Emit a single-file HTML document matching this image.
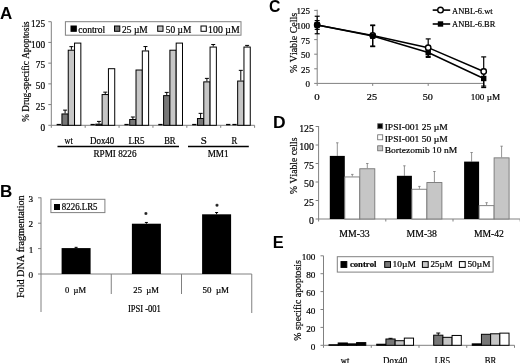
<!DOCTYPE html>
<html><head><meta charset="utf-8"><style>
html,body{margin:0;padding:0;background:#fff;width:520px;height:363px;overflow:hidden}
svg{display:block;filter:grayscale(1) blur(0.35px)}
text{font-kerning:none;white-space:pre;stroke:#000;stroke-width:0.2px}
</style></head><body>
<svg width="520" height="363" viewBox="0 0 520 363">
<rect width="520" height="363" fill="#fff"/>
<text x="-0.12" y="19.00" font-size="17" font-family='"Liberation Sans", sans-serif' font-weight="bold" textLength="12.27" lengthAdjust="spacingAndGlyphs" fill="#000" style="stroke:none">A</text>
<text x="-0.14" y="196.90" font-size="17" font-family='"Liberation Sans", sans-serif' font-weight="bold" textLength="12.32" lengthAdjust="spacingAndGlyphs" fill="#000" style="stroke:none">B</text>
<text x="269.05" y="12.00" font-size="17" font-family='"Liberation Sans", sans-serif' font-weight="bold" textLength="11.38" lengthAdjust="spacingAndGlyphs" fill="#000" style="stroke:none">C</text>
<text x="273.13" y="128.30" font-size="17" font-family='"Liberation Sans", sans-serif' font-weight="bold" textLength="12.60" lengthAdjust="spacingAndGlyphs" fill="#000" style="stroke:none">D</text>
<text x="272.70" y="248.00" font-size="17" font-family='"Liberation Sans", sans-serif' font-weight="bold" textLength="10.94" lengthAdjust="spacingAndGlyphs" fill="#000" style="stroke:none">E</text>
<line x1="51.30" y1="21.70" x2="51.30" y2="125.30" stroke="#808080" stroke-width="1"/>
<line x1="48.30" y1="125.30" x2="51.30" y2="125.30" stroke="#808080" stroke-width="1"/>
<text x="40.40" y="130.50" font-size="9.3" font-family='"Liberation Serif", serif' font-weight="normal" textLength="4.65" lengthAdjust="spacingAndGlyphs" fill="#000">0</text>
<line x1="48.30" y1="104.58" x2="51.30" y2="104.58" stroke="#808080" stroke-width="1"/>
<text x="35.76" y="109.78" font-size="9.3" font-family='"Liberation Serif", serif' font-weight="normal" textLength="9.30" lengthAdjust="spacingAndGlyphs" fill="#000">25</text>
<line x1="48.30" y1="83.86" x2="51.30" y2="83.86" stroke="#808080" stroke-width="1"/>
<text x="35.75" y="89.06" font-size="9.3" font-family='"Liberation Serif", serif' font-weight="normal" textLength="9.30" lengthAdjust="spacingAndGlyphs" fill="#000">50</text>
<line x1="48.30" y1="63.14" x2="51.30" y2="63.14" stroke="#808080" stroke-width="1"/>
<text x="35.76" y="68.34" font-size="9.3" font-family='"Liberation Serif", serif' font-weight="normal" textLength="9.30" lengthAdjust="spacingAndGlyphs" fill="#000">75</text>
<line x1="48.30" y1="42.42" x2="51.30" y2="42.42" stroke="#808080" stroke-width="1"/>
<text x="31.10" y="47.62" font-size="9.3" font-family='"Liberation Serif", serif' font-weight="normal" textLength="13.95" lengthAdjust="spacingAndGlyphs" fill="#000">100</text>
<line x1="48.30" y1="21.70" x2="51.30" y2="21.70" stroke="#808080" stroke-width="1"/>
<text x="31.11" y="26.90" font-size="9.3" font-family='"Liberation Serif", serif' font-weight="normal" textLength="13.95" lengthAdjust="spacingAndGlyphs" fill="#000">125</text>
<line x1="51.30" y1="125.30" x2="254.60" y2="125.30" stroke="#808080" stroke-width="1"/>
<line x1="51.30" y1="125.30" x2="51.30" y2="127.80" stroke="#808080" stroke-width="1"/>
<line x1="85.18" y1="125.30" x2="85.18" y2="127.80" stroke="#808080" stroke-width="1"/>
<line x1="119.07" y1="125.30" x2="119.07" y2="127.80" stroke="#808080" stroke-width="1"/>
<line x1="152.95" y1="125.30" x2="152.95" y2="127.80" stroke="#808080" stroke-width="1"/>
<line x1="186.83" y1="125.30" x2="186.83" y2="127.80" stroke="#808080" stroke-width="1"/>
<line x1="220.72" y1="125.30" x2="220.72" y2="127.80" stroke="#808080" stroke-width="1"/>
<line x1="254.60" y1="125.30" x2="254.60" y2="127.80" stroke="#808080" stroke-width="1"/>
<rect x="56.64" y="123.90" width="4.30" height="1.40" fill="#000"/>
<rect x="61.94" y="113.95" width="6.30" height="11.35" fill="#777777" stroke="#000" stroke-width="1"/>
<line x1="65.09" y1="110.13" x2="65.09" y2="113.45" stroke="#000" stroke-width="1"/>
<line x1="63.09" y1="110.13" x2="67.09" y2="110.13" stroke="#000" stroke-width="1"/>
<rect x="68.24" y="50.21" width="6.30" height="75.09" fill="#c6c6c6" stroke="#000" stroke-width="1"/>
<line x1="71.39" y1="46.65" x2="71.39" y2="49.71" stroke="#000" stroke-width="1"/>
<line x1="69.39" y1="46.65" x2="73.39" y2="46.65" stroke="#000" stroke-width="1"/>
<rect x="74.54" y="43.09" width="6.30" height="82.21" fill="#fff" stroke="#000" stroke-width="1"/>
<rect x="90.53" y="123.90" width="4.30" height="1.40" fill="#000"/>
<rect x="95.83" y="124.14" width="6.30" height="1.16" fill="#777777" stroke="#000" stroke-width="1"/>
<line x1="98.98" y1="121.40" x2="98.98" y2="123.64" stroke="#000" stroke-width="1"/>
<line x1="96.98" y1="121.40" x2="100.98" y2="121.40" stroke="#000" stroke-width="1"/>
<rect x="102.12" y="94.55" width="6.30" height="30.75" fill="#c6c6c6" stroke="#000" stroke-width="1"/>
<line x1="105.28" y1="92.15" x2="105.28" y2="94.05" stroke="#000" stroke-width="1"/>
<line x1="103.28" y1="92.15" x2="107.28" y2="92.15" stroke="#000" stroke-width="1"/>
<rect x="108.43" y="68.70" width="6.30" height="56.60" fill="#fff" stroke="#000" stroke-width="1"/>
<rect x="124.41" y="123.90" width="4.30" height="1.40" fill="#000"/>
<rect x="129.71" y="119.50" width="6.30" height="5.80" fill="#777777" stroke="#000" stroke-width="1"/>
<line x1="132.86" y1="117.01" x2="132.86" y2="119.00" stroke="#000" stroke-width="1"/>
<line x1="130.86" y1="117.01" x2="134.86" y2="117.01" stroke="#000" stroke-width="1"/>
<rect x="136.01" y="70.02" width="6.30" height="55.28" fill="#c6c6c6" stroke="#000" stroke-width="1"/>
<rect x="142.31" y="50.96" width="6.30" height="74.34" fill="#fff" stroke="#000" stroke-width="1"/>
<line x1="145.46" y1="46.56" x2="145.46" y2="50.46" stroke="#000" stroke-width="1"/>
<line x1="143.46" y1="46.56" x2="147.46" y2="46.56" stroke="#000" stroke-width="1"/>
<rect x="158.29" y="123.90" width="4.30" height="1.40" fill="#000"/>
<rect x="163.59" y="95.63" width="6.30" height="29.67" fill="#777777" stroke="#000" stroke-width="1"/>
<line x1="166.74" y1="92.40" x2="166.74" y2="95.13" stroke="#000" stroke-width="1"/>
<line x1="164.74" y1="92.40" x2="168.74" y2="92.40" stroke="#000" stroke-width="1"/>
<rect x="169.89" y="50.21" width="6.30" height="75.09" fill="#c6c6c6" stroke="#000" stroke-width="1"/>
<rect x="176.19" y="43.09" width="6.30" height="82.21" fill="#fff" stroke="#000" stroke-width="1"/>
<rect x="192.17" y="123.90" width="4.30" height="1.40" fill="#000"/>
<rect x="197.47" y="118.51" width="6.30" height="6.79" fill="#777777" stroke="#000" stroke-width="1"/>
<line x1="200.62" y1="113.37" x2="200.62" y2="118.01" stroke="#000" stroke-width="1"/>
<line x1="198.62" y1="113.37" x2="202.62" y2="113.37" stroke="#000" stroke-width="1"/>
<rect x="203.77" y="81.87" width="6.30" height="43.43" fill="#c6c6c6" stroke="#000" stroke-width="1"/>
<line x1="206.92" y1="78.39" x2="206.92" y2="81.37" stroke="#000" stroke-width="1"/>
<line x1="204.92" y1="78.39" x2="208.92" y2="78.39" stroke="#000" stroke-width="1"/>
<rect x="210.07" y="47.06" width="6.30" height="78.24" fill="#fff" stroke="#000" stroke-width="1"/>
<line x1="213.22" y1="44.49" x2="213.22" y2="46.56" stroke="#000" stroke-width="1"/>
<line x1="211.22" y1="44.49" x2="215.22" y2="44.49" stroke="#000" stroke-width="1"/>
<rect x="226.06" y="123.90" width="4.30" height="1.40" fill="#000"/>
<rect x="232.36" y="123.90" width="4.30" height="1.40" fill="#000"/>
<rect x="237.66" y="81.04" width="6.30" height="44.26" fill="#c6c6c6" stroke="#000" stroke-width="1"/>
<line x1="240.81" y1="70.35" x2="240.81" y2="80.54" stroke="#000" stroke-width="1"/>
<line x1="238.81" y1="70.35" x2="242.81" y2="70.35" stroke="#000" stroke-width="1"/>
<rect x="243.96" y="47.06" width="6.30" height="78.24" fill="#fff" stroke="#000" stroke-width="1"/>
<line x1="247.11" y1="45.40" x2="247.11" y2="46.56" stroke="#000" stroke-width="1"/>
<line x1="245.11" y1="45.40" x2="249.11" y2="45.40" stroke="#000" stroke-width="1"/>
<text x="64.59" y="143.90" font-size="9.6" font-family='"Liberation Serif", serif' font-weight="normal" textLength="8.16" lengthAdjust="spacingAndGlyphs" fill="#000">wt</text>
<text x="89.94" y="143.90" font-size="9.6" font-family='"Liberation Serif", serif' font-weight="normal" textLength="24.40" lengthAdjust="spacingAndGlyphs" fill="#000">Dox40</text>
<text x="128.44" y="143.90" font-size="9.6" font-family='"Liberation Serif", serif' font-weight="normal" textLength="16.12" lengthAdjust="spacingAndGlyphs" fill="#000">LR5</text>
<text x="164.15" y="143.90" font-size="9.6" font-family='"Liberation Serif", serif' font-weight="normal" textLength="11.46" lengthAdjust="spacingAndGlyphs" fill="#000">BR</text>
<text x="200.76" y="143.90" font-size="9.6" font-family='"Liberation Serif", serif' font-weight="normal" textLength="6.12" lengthAdjust="spacingAndGlyphs" fill="#000">S</text>
<text x="231.55" y="143.90" font-size="9.6" font-family='"Liberation Serif", serif' font-weight="normal" textLength="5.76" lengthAdjust="spacingAndGlyphs" fill="#000">R</text>
<line x1="57.50" y1="146.50" x2="179.00" y2="146.50" stroke="#000" stroke-width="1.4"/>
<line x1="188.00" y1="146.50" x2="248.80" y2="146.50" stroke="#000" stroke-width="1.4"/>
<text x="93.44" y="156.60" font-size="9.6" font-family='"Liberation Serif", serif' font-weight="normal" textLength="43.04" lengthAdjust="spacingAndGlyphs" fill="#000">RPMI 8226</text>
<text x="207.64" y="156.60" font-size="9.6" font-family='"Liberation Serif", serif' font-weight="normal" textLength="20.92" lengthAdjust="spacingAndGlyphs" fill="#000">MM1</text>
<text x="0" y="0" font-size="10" font-family='"Liberation Serif", serif' textLength="100.25" lengthAdjust="spacingAndGlyphs" transform="translate(28.80,121.71) rotate(-90)">% Drug-specific Apoptosis</text>
<rect x="65.40" y="21.70" width="175.60" height="13.50" fill="#fff" stroke="#808080" stroke-width="1"/>
<rect x="71.00" y="26.00" width="5.30" height="5.30" fill="#000" stroke="#000" stroke-width="1"/>
<text x="78.24" y="33.20" font-size="9.4" font-family='"Liberation Serif", serif' font-weight="normal" textLength="26.95" lengthAdjust="spacingAndGlyphs" fill="#000">control</text>
<rect x="114.50" y="26.00" width="5.30" height="5.30" fill="#777777" stroke="#000" stroke-width="1"/>
<text x="122.08" y="33.20" font-size="9.4" font-family='"Liberation Serif", serif' font-weight="normal" textLength="25.69" lengthAdjust="spacingAndGlyphs" fill="#000">25 µM</text>
<rect x="157.70" y="26.00" width="5.30" height="5.30" fill="#c6c6c6" stroke="#000" stroke-width="1"/>
<text x="165.75" y="33.20" font-size="9.4" font-family='"Liberation Serif", serif' font-weight="normal" textLength="25.52" lengthAdjust="spacingAndGlyphs" fill="#000">50 µM</text>
<rect x="201.00" y="26.00" width="5.30" height="5.30" fill="#fff" stroke="#000" stroke-width="1"/>
<text x="208.14" y="33.20" font-size="9.4" font-family='"Liberation Serif", serif' font-weight="normal" textLength="31.55" lengthAdjust="spacingAndGlyphs" fill="#000">100 µM</text>
<line x1="41.00" y1="197.40" x2="41.00" y2="312.00" stroke="#808080" stroke-width="1"/>
<line x1="38.00" y1="274.00" x2="41.00" y2="274.00" stroke="#808080" stroke-width="1"/>
<text x="28.45" y="278.10" font-size="9.2" font-family='"Liberation Serif", serif' font-weight="normal" textLength="4.60" lengthAdjust="spacingAndGlyphs" fill="#000">0</text>
<line x1="38.00" y1="248.60" x2="41.00" y2="248.60" stroke="#808080" stroke-width="1"/>
<text x="28.65" y="252.70" font-size="9.2" font-family='"Liberation Serif", serif' font-weight="normal" textLength="4.60" lengthAdjust="spacingAndGlyphs" fill="#000">1</text>
<line x1="38.00" y1="223.20" x2="41.00" y2="223.20" stroke="#808080" stroke-width="1"/>
<text x="28.61" y="227.30" font-size="9.2" font-family='"Liberation Serif", serif' font-weight="normal" textLength="4.60" lengthAdjust="spacingAndGlyphs" fill="#000">2</text>
<line x1="38.00" y1="197.80" x2="41.00" y2="197.80" stroke="#808080" stroke-width="1"/>
<text x="28.46" y="201.90" font-size="9.2" font-family='"Liberation Serif", serif' font-weight="normal" textLength="4.60" lengthAdjust="spacingAndGlyphs" fill="#000">3</text>
<line x1="41.00" y1="274.00" x2="251.75" y2="274.00" stroke="#808080" stroke-width="1"/>
<line x1="111.25" y1="274.00" x2="111.25" y2="294.00" stroke="#808080" stroke-width="1"/>
<line x1="181.50" y1="274.00" x2="181.50" y2="294.00" stroke="#808080" stroke-width="1"/>
<line x1="251.75" y1="274.00" x2="251.75" y2="313.00" stroke="#808080" stroke-width="1"/>
<rect x="61.60" y="248.09" width="29.00" height="25.91" fill="#000"/>
<line x1="76.10" y1="247.33" x2="76.10" y2="248.09" stroke="#000" stroke-width="1"/>
<line x1="74.60" y1="247.33" x2="77.60" y2="247.33" stroke="#000" stroke-width="1"/>
<rect x="131.90" y="223.71" width="29.00" height="50.29" fill="#000"/>
<line x1="146.40" y1="222.44" x2="146.40" y2="223.71" stroke="#000" stroke-width="1"/>
<line x1="144.90" y1="222.44" x2="147.90" y2="222.44" stroke="#000" stroke-width="1"/>
<rect x="202.10" y="214.31" width="29.00" height="59.69" fill="#000"/>
<line x1="216.60" y1="212.53" x2="216.60" y2="214.31" stroke="#000" stroke-width="1"/>
<line x1="215.10" y1="212.53" x2="218.10" y2="212.53" stroke="#000" stroke-width="1"/>
<line x1="145.90" y1="212.10" x2="145.90" y2="215.10" stroke="#222" stroke-width="1.2"/>
<line x1="144.60" y1="212.85" x2="147.20" y2="214.35" stroke="#222" stroke-width="1.2"/>
<line x1="147.20" y1="212.85" x2="144.60" y2="214.35" stroke="#222" stroke-width="1.2"/>
<line x1="217.00" y1="203.70" x2="217.00" y2="206.70" stroke="#222" stroke-width="1.2"/>
<line x1="215.70" y1="204.45" x2="218.30" y2="205.95" stroke="#222" stroke-width="1.2"/>
<line x1="218.30" y1="204.45" x2="215.70" y2="205.95" stroke="#222" stroke-width="1.2"/>
<rect x="50.90" y="199.30" width="54.00" height="13.30" fill="#fff" stroke="#808080" stroke-width="1"/>
<rect x="54.00" y="204.00" width="6.00" height="6.00" fill="#000"/>
<text x="61.86" y="210.00" font-size="9.4" font-family='"Liberation Serif", serif' font-weight="normal" textLength="35.68" lengthAdjust="spacingAndGlyphs" fill="#000">8226.LR5</text>
<text x="65.08" y="293.30" font-size="8.8" font-family='"Liberation Serif", serif' font-weight="normal" textLength="20.97" lengthAdjust="spacingAndGlyphs" fill="#000">0  µM</text>
<text x="133.37" y="293.30" font-size="8.8" font-family='"Liberation Serif", serif' font-weight="normal" textLength="25.63" lengthAdjust="spacingAndGlyphs" fill="#000">25  µM</text>
<text x="202.48" y="293.30" font-size="8.8" font-family='"Liberation Serif", serif' font-weight="normal" textLength="26.53" lengthAdjust="spacingAndGlyphs" fill="#000">50  µM</text>
<text x="127.89" y="311.50" font-size="9.6" font-family='"Liberation Serif", serif' font-weight="normal" textLength="33.02" lengthAdjust="spacingAndGlyphs" fill="#000">IPSI -001</text>
<text x="0" y="0" font-size="10" font-family='"Liberation Serif", serif' textLength="102.75" lengthAdjust="spacingAndGlyphs" transform="translate(23.60,298.09) rotate(-90)">Fold DNA fragmentation</text>
<line x1="317.20" y1="9.70" x2="317.20" y2="83.40" stroke="#808080" stroke-width="1"/>
<line x1="314.20" y1="83.40" x2="317.20" y2="83.40" stroke="#808080" stroke-width="1"/>
<text x="305.54" y="87.40" font-size="9" font-family='"Liberation Serif", serif' font-weight="normal" textLength="4.50" lengthAdjust="spacingAndGlyphs" fill="#000">0</text>
<line x1="314.20" y1="68.80" x2="317.20" y2="68.80" stroke="#808080" stroke-width="1"/>
<text x="301.05" y="72.80" font-size="9" font-family='"Liberation Serif", serif' font-weight="normal" textLength="9.00" lengthAdjust="spacingAndGlyphs" fill="#000">25</text>
<line x1="314.20" y1="54.20" x2="317.20" y2="54.20" stroke="#808080" stroke-width="1"/>
<text x="301.04" y="58.20" font-size="9" font-family='"Liberation Serif", serif' font-weight="normal" textLength="9.00" lengthAdjust="spacingAndGlyphs" fill="#000">50</text>
<line x1="314.20" y1="39.60" x2="317.20" y2="39.60" stroke="#808080" stroke-width="1"/>
<text x="301.05" y="43.60" font-size="9" font-family='"Liberation Serif", serif' font-weight="normal" textLength="9.00" lengthAdjust="spacingAndGlyphs" fill="#000">75</text>
<line x1="314.20" y1="25.00" x2="317.20" y2="25.00" stroke="#808080" stroke-width="1"/>
<text x="296.54" y="29.00" font-size="9" font-family='"Liberation Serif", serif' font-weight="normal" textLength="13.50" lengthAdjust="spacingAndGlyphs" fill="#000">100</text>
<line x1="314.20" y1="10.40" x2="317.20" y2="10.40" stroke="#808080" stroke-width="1"/>
<text x="296.55" y="14.40" font-size="9" font-family='"Liberation Serif", serif' font-weight="normal" textLength="13.50" lengthAdjust="spacingAndGlyphs" fill="#000">125</text>
<line x1="317.20" y1="83.40" x2="483.70" y2="83.40" stroke="#808080" stroke-width="1"/>
<line x1="317.20" y1="83.40" x2="317.20" y2="85.90" stroke="#808080" stroke-width="1"/>
<line x1="372.70" y1="83.40" x2="372.70" y2="85.90" stroke="#808080" stroke-width="1"/>
<line x1="428.20" y1="83.40" x2="428.20" y2="85.90" stroke="#808080" stroke-width="1"/>
<line x1="483.70" y1="83.40" x2="483.70" y2="85.90" stroke="#808080" stroke-width="1"/>
<text x="314.39" y="100.00" font-size="9" font-family='"Liberation Serif", serif' font-weight="normal" textLength="5.43" lengthAdjust="spacingAndGlyphs" fill="#000">0</text>
<text x="366.85" y="100.00" font-size="9" font-family='"Liberation Serif", serif' font-weight="normal" textLength="10.25" lengthAdjust="spacingAndGlyphs" fill="#000">25</text>
<text x="422.71" y="100.00" font-size="9" font-family='"Liberation Serif", serif' font-weight="normal" textLength="10.18" lengthAdjust="spacingAndGlyphs" fill="#000">50</text>
<text x="470.70" y="100.00" font-size="9" font-family='"Liberation Serif", serif' font-weight="normal" textLength="29.37" lengthAdjust="spacingAndGlyphs" fill="#000">100 µM</text>
<line x1="317.20" y1="16.24" x2="317.20" y2="33.76" stroke="#000" stroke-width="1.2"/>
<line x1="314.70" y1="16.24" x2="319.70" y2="16.24" stroke="#000" stroke-width="1.2"/>
<line x1="314.70" y1="33.76" x2="319.70" y2="33.76" stroke="#000" stroke-width="1.2"/>
<line x1="372.70" y1="25.00" x2="372.70" y2="46.02" stroke="#000" stroke-width="1.2"/>
<line x1="370.20" y1="25.00" x2="375.20" y2="25.00" stroke="#000" stroke-width="1.2"/>
<line x1="370.20" y1="46.02" x2="375.20" y2="46.02" stroke="#000" stroke-width="1.2"/>
<line x1="428.20" y1="38.90" x2="428.20" y2="56.42" stroke="#000" stroke-width="1.2"/>
<line x1="425.70" y1="38.90" x2="430.70" y2="38.90" stroke="#000" stroke-width="1.2"/>
<line x1="425.70" y1="56.42" x2="430.70" y2="56.42" stroke="#000" stroke-width="1.2"/>
<line x1="483.70" y1="56.89" x2="483.70" y2="86.09" stroke="#000" stroke-width="1.2"/>
<line x1="481.20" y1="56.89" x2="486.20" y2="56.89" stroke="#000" stroke-width="1.2"/>
<line x1="481.20" y1="86.09" x2="486.20" y2="86.09" stroke="#000" stroke-width="1.2"/>
<line x1="317.20" y1="20.62" x2="317.20" y2="29.38" stroke="#000" stroke-width="1.2"/>
<line x1="314.70" y1="20.62" x2="319.70" y2="20.62" stroke="#000" stroke-width="1.2"/>
<line x1="314.70" y1="29.38" x2="319.70" y2="29.38" stroke="#000" stroke-width="1.2"/>
<line x1="372.70" y1="25.58" x2="372.70" y2="46.61" stroke="#000" stroke-width="1.2"/>
<line x1="370.20" y1="25.58" x2="375.20" y2="25.58" stroke="#000" stroke-width="1.2"/>
<line x1="370.20" y1="46.61" x2="375.20" y2="46.61" stroke="#000" stroke-width="1.2"/>
<line x1="428.20" y1="47.60" x2="428.20" y2="57.41" stroke="#000" stroke-width="1.2"/>
<line x1="425.70" y1="47.60" x2="430.70" y2="47.60" stroke="#000" stroke-width="1.2"/>
<line x1="425.70" y1="57.41" x2="430.70" y2="57.41" stroke="#000" stroke-width="1.2"/>
<line x1="483.70" y1="69.44" x2="483.70" y2="87.55" stroke="#000" stroke-width="1.2"/>
<line x1="481.20" y1="69.44" x2="486.20" y2="69.44" stroke="#000" stroke-width="1.2"/>
<line x1="481.20" y1="87.55" x2="486.20" y2="87.55" stroke="#000" stroke-width="1.2"/>
<polyline points="317.20,25.00 372.70,35.51 428.20,47.66 483.70,71.49" fill="none" stroke="#000" stroke-width="1.5"/>
<polyline points="317.20,25.00 372.70,36.10 428.20,52.51 483.70,78.49" fill="none" stroke="#000" stroke-width="1.5"/>
<circle cx="317.20" cy="25.00" r="2.7" fill="#fff" stroke="#000" stroke-width="1.4"/>
<circle cx="372.70" cy="35.51" r="2.7" fill="#fff" stroke="#000" stroke-width="1.4"/>
<circle cx="428.20" cy="47.66" r="2.7" fill="#fff" stroke="#000" stroke-width="1.4"/>
<circle cx="483.70" cy="71.49" r="2.7" fill="#fff" stroke="#000" stroke-width="1.4"/>
<rect x="314.50" y="22.30" width="5.40" height="5.40" fill="#000"/>
<rect x="370.00" y="33.40" width="5.40" height="5.40" fill="#000"/>
<rect x="425.50" y="49.81" width="5.40" height="5.40" fill="#000"/>
<rect x="481.00" y="75.79" width="5.40" height="5.40" fill="#000"/>
<line x1="432.70" y1="10.10" x2="450.20" y2="10.10" stroke="#000" stroke-width="1.6"/>
<circle cx="440.5" cy="10.1" r="2.8" fill="#fff" stroke="#000" stroke-width="1.4"/>
<line x1="432.70" y1="24.00" x2="450.20" y2="24.00" stroke="#000" stroke-width="1.6"/>
<rect x="437.80" y="21.30" width="5.40" height="5.40" fill="#000"/>
<text x="452.12" y="13.50" font-size="9.2" font-family='"Liberation Serif", serif' font-weight="normal" textLength="40.53" lengthAdjust="spacingAndGlyphs" fill="#000">ANBL-6.wt</text>
<text x="452.12" y="26.90" font-size="9.2" font-family='"Liberation Serif", serif' font-weight="normal" textLength="43.19" lengthAdjust="spacingAndGlyphs" fill="#000">ANBL-6.BR</text>
<text x="0" y="0" font-size="10" font-family='"Liberation Serif", serif' textLength="60.00" lengthAdjust="spacingAndGlyphs" transform="translate(296.50,72.94) rotate(-90)">% Viable Cells</text>
<line x1="318.60" y1="126.00" x2="318.60" y2="219.00" stroke="#808080" stroke-width="1"/>
<line x1="315.60" y1="219.00" x2="318.60" y2="219.00" stroke="#808080" stroke-width="1"/>
<text x="308.97" y="224.00" font-size="9.8" font-family='"Liberation Serif", serif' font-weight="normal" textLength="4.90" lengthAdjust="spacingAndGlyphs" fill="#000">0</text>
<line x1="315.60" y1="200.50" x2="318.60" y2="200.50" stroke="#808080" stroke-width="1"/>
<text x="304.08" y="205.50" font-size="9.8" font-family='"Liberation Serif", serif' font-weight="normal" textLength="9.80" lengthAdjust="spacingAndGlyphs" fill="#000">25</text>
<line x1="315.60" y1="182.00" x2="318.60" y2="182.00" stroke="#808080" stroke-width="1"/>
<text x="304.07" y="187.00" font-size="9.8" font-family='"Liberation Serif", serif' font-weight="normal" textLength="9.80" lengthAdjust="spacingAndGlyphs" fill="#000">50</text>
<line x1="315.60" y1="163.50" x2="318.60" y2="163.50" stroke="#808080" stroke-width="1"/>
<text x="304.08" y="168.50" font-size="9.8" font-family='"Liberation Serif", serif' font-weight="normal" textLength="9.80" lengthAdjust="spacingAndGlyphs" fill="#000">75</text>
<line x1="315.60" y1="145.00" x2="318.60" y2="145.00" stroke="#808080" stroke-width="1"/>
<text x="299.17" y="150.00" font-size="9.8" font-family='"Liberation Serif", serif' font-weight="normal" textLength="14.70" lengthAdjust="spacingAndGlyphs" fill="#000">100</text>
<line x1="315.60" y1="126.50" x2="318.60" y2="126.50" stroke="#808080" stroke-width="1"/>
<text x="299.18" y="131.50" font-size="9.8" font-family='"Liberation Serif", serif' font-weight="normal" textLength="14.70" lengthAdjust="spacingAndGlyphs" fill="#000">125</text>
<line x1="318.60" y1="219.00" x2="520.00" y2="219.00" stroke="#808080" stroke-width="1"/>
<line x1="318.60" y1="219.00" x2="318.60" y2="221.50" stroke="#808080" stroke-width="1"/>
<line x1="385.80" y1="219.00" x2="385.80" y2="221.50" stroke="#808080" stroke-width="1"/>
<line x1="453.00" y1="219.00" x2="453.00" y2="221.50" stroke="#808080" stroke-width="1"/>
<line x1="520.20" y1="219.00" x2="520.20" y2="221.50" stroke="#808080" stroke-width="1"/>
<line x1="337.30" y1="142.80" x2="337.30" y2="155.90" stroke="#777" stroke-width="0.8"/>
<line x1="336.10" y1="142.80" x2="338.50" y2="142.80" stroke="#777" stroke-width="0.8"/>
<rect x="329.80" y="155.90" width="15.00" height="63.10" fill="#000"/>
<line x1="352.30" y1="174.40" x2="352.30" y2="176.50" stroke="#777" stroke-width="0.8"/>
<line x1="351.10" y1="174.40" x2="353.50" y2="174.40" stroke="#777" stroke-width="0.8"/>
<rect x="344.80" y="176.95" width="15.00" height="42.05" fill="#fff" stroke="#777" stroke-width="0.9"/>
<line x1="367.30" y1="163.50" x2="367.30" y2="168.30" stroke="#777" stroke-width="0.8"/>
<line x1="366.10" y1="163.50" x2="368.50" y2="163.50" stroke="#777" stroke-width="0.8"/>
<rect x="359.80" y="168.75" width="15.00" height="50.25" fill="#c6c6c6" stroke="#777" stroke-width="0.9"/>
<line x1="404.40" y1="165.80" x2="404.40" y2="175.80" stroke="#777" stroke-width="0.8"/>
<line x1="403.20" y1="165.80" x2="405.60" y2="165.80" stroke="#777" stroke-width="0.8"/>
<rect x="396.90" y="175.80" width="15.00" height="43.20" fill="#000"/>
<line x1="419.40" y1="186.40" x2="419.40" y2="188.80" stroke="#777" stroke-width="0.8"/>
<line x1="418.20" y1="186.40" x2="420.60" y2="186.40" stroke="#777" stroke-width="0.8"/>
<rect x="411.90" y="189.25" width="15.00" height="29.75" fill="#fff" stroke="#777" stroke-width="0.9"/>
<line x1="434.40" y1="171.50" x2="434.40" y2="182.10" stroke="#777" stroke-width="0.8"/>
<line x1="433.20" y1="171.50" x2="435.60" y2="171.50" stroke="#777" stroke-width="0.8"/>
<rect x="426.90" y="182.55" width="15.00" height="36.45" fill="#c6c6c6" stroke="#777" stroke-width="0.9"/>
<line x1="471.60" y1="152.50" x2="471.60" y2="161.60" stroke="#777" stroke-width="0.8"/>
<line x1="470.40" y1="152.50" x2="472.80" y2="152.50" stroke="#777" stroke-width="0.8"/>
<rect x="464.10" y="161.60" width="15.00" height="57.40" fill="#000"/>
<line x1="486.60" y1="202.70" x2="486.60" y2="205.20" stroke="#777" stroke-width="0.8"/>
<line x1="485.40" y1="202.70" x2="487.80" y2="202.70" stroke="#777" stroke-width="0.8"/>
<rect x="479.10" y="205.65" width="15.00" height="13.35" fill="#fff" stroke="#777" stroke-width="0.9"/>
<line x1="501.60" y1="146.20" x2="501.60" y2="157.40" stroke="#777" stroke-width="0.8"/>
<line x1="500.40" y1="146.20" x2="502.80" y2="146.20" stroke="#777" stroke-width="0.8"/>
<rect x="494.10" y="157.85" width="15.00" height="61.15" fill="#c6c6c6" stroke="#777" stroke-width="0.9"/>
<text x="339.32" y="236.50" font-size="9.4" font-family='"Liberation Serif", serif' font-weight="normal" textLength="30.46" lengthAdjust="spacingAndGlyphs" fill="#000">MM-33</text>
<text x="406.62" y="236.80" font-size="9.4" font-family='"Liberation Serif", serif' font-weight="normal" textLength="30.25" lengthAdjust="spacingAndGlyphs" fill="#000">MM-38</text>
<text x="474.02" y="236.80" font-size="9.4" font-family='"Liberation Serif", serif' font-weight="normal" textLength="29.91" lengthAdjust="spacingAndGlyphs" fill="#000">MM-42</text>
<rect x="377.70" y="123.70" width="5.00" height="5.00" fill="#000" stroke="#666" stroke-width="0.8"/>
<text x="384.65" y="130.40" font-size="9.2" font-family='"Liberation Serif", serif' font-weight="normal" textLength="63.13" lengthAdjust="spacingAndGlyphs" fill="#000">IPSI-001 25 µM</text>
<rect x="377.70" y="134.80" width="5.00" height="5.00" fill="#fff" stroke="#666" stroke-width="0.8"/>
<text x="384.65" y="141.50" font-size="9.2" font-family='"Liberation Serif", serif' font-weight="normal" textLength="63.13" lengthAdjust="spacingAndGlyphs" fill="#000">IPSI-001 50 µM</text>
<rect x="377.70" y="145.80" width="5.00" height="5.00" fill="#c6c6c6" stroke="#666" stroke-width="0.8"/>
<text x="384.73" y="152.50" font-size="9.2" font-family='"Liberation Serif", serif' font-weight="normal" textLength="72.55" lengthAdjust="spacingAndGlyphs" fill="#000">Bortezomib 10 nM</text>
<text x="0" y="0" font-size="10" font-family='"Liberation Serif", serif' textLength="56.38" lengthAdjust="spacingAndGlyphs" transform="translate(296.50,193.93) rotate(-90)">% Viable cells</text>
<line x1="323.50" y1="255.80" x2="323.50" y2="345.30" stroke="#808080" stroke-width="1"/>
<line x1="320.50" y1="345.30" x2="323.50" y2="345.30" stroke="#808080" stroke-width="1"/>
<text x="310.85" y="349.60" font-size="9.2" font-family='"Liberation Serif", serif' font-weight="normal" textLength="4.60" lengthAdjust="spacingAndGlyphs" fill="#000">0</text>
<line x1="320.50" y1="327.40" x2="323.50" y2="327.40" stroke="#808080" stroke-width="1"/>
<text x="306.25" y="331.70" font-size="9.2" font-family='"Liberation Serif", serif' font-weight="normal" textLength="9.20" lengthAdjust="spacingAndGlyphs" fill="#000">20</text>
<line x1="320.50" y1="309.50" x2="323.50" y2="309.50" stroke="#808080" stroke-width="1"/>
<text x="306.25" y="313.80" font-size="9.2" font-family='"Liberation Serif", serif' font-weight="normal" textLength="9.20" lengthAdjust="spacingAndGlyphs" fill="#000">40</text>
<line x1="320.50" y1="291.60" x2="323.50" y2="291.60" stroke="#808080" stroke-width="1"/>
<text x="306.25" y="295.90" font-size="9.2" font-family='"Liberation Serif", serif' font-weight="normal" textLength="9.20" lengthAdjust="spacingAndGlyphs" fill="#000">60</text>
<line x1="320.50" y1="273.70" x2="323.50" y2="273.70" stroke="#808080" stroke-width="1"/>
<text x="306.25" y="278.00" font-size="9.2" font-family='"Liberation Serif", serif' font-weight="normal" textLength="9.20" lengthAdjust="spacingAndGlyphs" fill="#000">80</text>
<line x1="320.50" y1="255.80" x2="323.50" y2="255.80" stroke="#808080" stroke-width="1"/>
<text x="301.65" y="260.10" font-size="9.2" font-family='"Liberation Serif", serif' font-weight="normal" textLength="13.80" lengthAdjust="spacingAndGlyphs" fill="#000">100</text>
<line x1="323.50" y1="345.30" x2="514.50" y2="345.30" stroke="#808080" stroke-width="1"/>
<line x1="323.50" y1="345.30" x2="323.50" y2="347.80" stroke="#808080" stroke-width="1"/>
<line x1="371.25" y1="345.30" x2="371.25" y2="347.80" stroke="#808080" stroke-width="1"/>
<line x1="419.00" y1="345.30" x2="419.00" y2="347.80" stroke="#808080" stroke-width="1"/>
<line x1="466.75" y1="345.30" x2="466.75" y2="347.80" stroke="#808080" stroke-width="1"/>
<line x1="514.50" y1="345.30" x2="514.50" y2="347.80" stroke="#808080" stroke-width="1"/>
<rect x="328.98" y="344.76" width="9.20" height="0.54" fill="#000" stroke="#000" stroke-width="1"/>
<rect x="338.18" y="342.97" width="9.20" height="2.33" fill="#000" stroke="#000" stroke-width="1"/>
<rect x="347.38" y="343.87" width="9.20" height="1.43" fill="#000" stroke="#000" stroke-width="1"/>
<rect x="356.58" y="342.62" width="9.20" height="2.69" fill="#000" stroke="#000" stroke-width="1"/>
<rect x="376.73" y="344.23" width="9.20" height="1.07" fill="#000" stroke="#000" stroke-width="1"/>
<rect x="385.93" y="339.00" width="9.20" height="6.30" fill="#777777" stroke="#000" stroke-width="1"/>
<line x1="388.53" y1="338.32" x2="392.53" y2="338.32" stroke="#000" stroke-width="1"/>
<line x1="390.53" y1="338.32" x2="390.53" y2="339.00" stroke="#000" stroke-width="1"/>
<rect x="395.12" y="340.70" width="9.20" height="4.60" fill="#c6c6c6" stroke="#000" stroke-width="1"/>
<rect x="404.33" y="338.10" width="9.20" height="7.20" fill="#fff" stroke="#000" stroke-width="1"/>
<rect x="433.68" y="335.19" width="9.20" height="10.11" fill="#777777" stroke="#000" stroke-width="1"/>
<line x1="436.28" y1="333.04" x2="440.28" y2="333.04" stroke="#000" stroke-width="1"/>
<line x1="438.28" y1="333.04" x2="438.28" y2="335.19" stroke="#000" stroke-width="1"/>
<rect x="442.88" y="337.33" width="9.20" height="7.97" fill="#c6c6c6" stroke="#000" stroke-width="1"/>
<rect x="452.08" y="335.45" width="9.20" height="9.85" fill="#fff" stroke="#000" stroke-width="1"/>
<rect x="472.23" y="343.87" width="9.20" height="1.43" fill="#000" stroke="#000" stroke-width="1"/>
<rect x="481.43" y="334.29" width="9.20" height="11.01" fill="#777777" stroke="#000" stroke-width="1"/>
<rect x="490.62" y="333.80" width="9.20" height="11.50" fill="#c6c6c6" stroke="#000" stroke-width="1"/>
<rect x="499.83" y="333.13" width="9.20" height="12.17" fill="#fff" stroke="#000" stroke-width="1"/>
<text x="340.79" y="363.60" font-size="9.4" font-family='"Liberation Serif", serif' font-weight="normal" textLength="8.46" lengthAdjust="spacingAndGlyphs" fill="#000">wt</text>
<text x="383.04" y="363.60" font-size="9.4" font-family='"Liberation Serif", serif' font-weight="normal" textLength="24.19" lengthAdjust="spacingAndGlyphs" fill="#000">Dox40</text>
<text x="434.75" y="363.60" font-size="9.4" font-family='"Liberation Serif", serif' font-weight="normal" textLength="15.18" lengthAdjust="spacingAndGlyphs" fill="#000">LR5</text>
<text x="484.75" y="363.60" font-size="9.4" font-family='"Liberation Serif", serif' font-weight="normal" textLength="11.36" lengthAdjust="spacingAndGlyphs" fill="#000">BR</text>
<rect x="337.30" y="256.70" width="155.80" height="15.40" fill="#fff" stroke="#808080" stroke-width="1"/>
<rect x="341.00" y="261.60" width="5.80" height="5.80" fill="#000" stroke="#000" stroke-width="1"/>
<text x="349.90" y="267.00" font-size="9.2" font-family='"Liberation Serif", serif' font-weight="bold" textLength="26.55" lengthAdjust="spacingAndGlyphs" fill="#000">control</text>
<rect x="384.70" y="261.60" width="5.80" height="5.80" fill="#777777" stroke="#000" stroke-width="1"/>
<text x="392.47" y="267.00" font-size="9.2" font-family='"Liberation Serif", serif' font-weight="normal" textLength="23.41" lengthAdjust="spacingAndGlyphs" fill="#000">10µM</text>
<rect x="422.40" y="261.60" width="5.80" height="5.80" fill="#c6c6c6" stroke="#000" stroke-width="1"/>
<text x="430.61" y="267.00" font-size="9.2" font-family='"Liberation Serif", serif' font-weight="normal" textLength="22.16" lengthAdjust="spacingAndGlyphs" fill="#000">25µM</text>
<rect x="459.40" y="261.60" width="5.80" height="5.80" fill="#fff" stroke="#000" stroke-width="1"/>
<text x="467.46" y="267.00" font-size="9.2" font-family='"Liberation Serif", serif' font-weight="normal" textLength="23.02" lengthAdjust="spacingAndGlyphs" fill="#000">50µM</text>
<text x="0" y="0" font-size="10" font-family='"Liberation Serif", serif' textLength="80.49" lengthAdjust="spacingAndGlyphs" transform="translate(301.00,340.63) rotate(-90)">% specific apoptosis</text>
</svg>
</body></html>
